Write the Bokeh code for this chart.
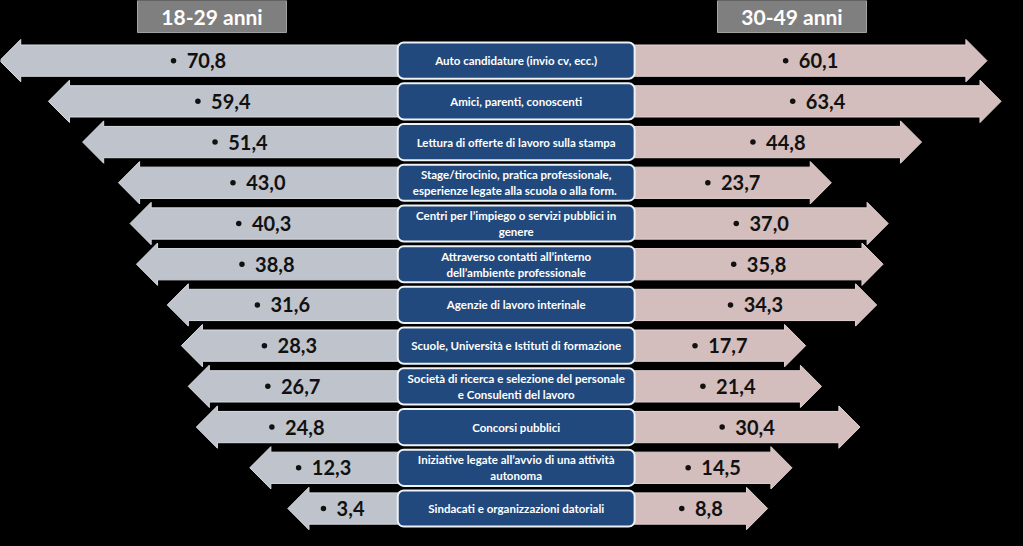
from bokeh.plotting import figure
from bokeh.models import Range1d, ColumnDataSource
from bokeh.embed import file_html
from bokeh.resources import INLINE
from bokeh.core.properties import value

# ---------------- data ----------------
categories = [
    "Auto candidature (invio cv, ecc.)",
    "Amici, parenti, conoscenti",
    "Lettura di offerte di lavoro sulla stampa",
    "Stage/tirocinio, pratica professionale,\nesperienze  legate alla scuola o alla form.",
    "Centri per l\u2019impiego o servizi pubblici in\ngenere",
    "Attraverso contatti all\u2019interno\ndell\u2019ambiente professionale",
    "Agenzie di lavoro interinale",
    "Scuole, Universit\u00e0 e Istituti di formazione",
    "Societ\u00e0 di ricerca e selezione del personale\ne Consulenti del lavoro",
    "Concorsi pubblici",
    "Iniziative legate all\u2019avvio di una attivit\u00e0\nautonoma",
    "Sindacati e organizzazioni datoriali",
]
age_18_29 = [70.8, 59.4, 51.4, 43.0, 40.3, 38.8, 31.6, 28.3, 26.7, 24.8, 12.3, 3.4]
age_30_49 = [60.1, 63.4, 44.8, 23.7, 37.0, 35.8, 34.3, 17.7, 21.4, 30.4, 14.5, 8.8]
group_labels = ["18-29 anni", "30-49 anni"]

# ---------------- layout constants ----------------
HW = 27.7        # half width of the central label box (value units)
OFFSET = 50.0    # arrow length added to every value
HEAD = 4.93      # arrow head length
BODY_H = 0.384   # half height of arrow body (row units)
HEAD_H = 0.52    # half height of arrow head
BOX_H = 0.444    # half height of label box

X0, X1 = -120.6, 114.9
Y0, Y1 = -11.54, 1.477
W_PX, H_PX = 1007, 530
PXU = W_PX / (X1 - X0)     # screen px per value unit

LEFT_COL = "#BFC3CC"
RIGHT_COL = "#D3BDBD"
BOX_COL = "#21497D"
HEAD_COL = "#7F7F7F"
FONT = "Lato"

rows = [-i for i in range(len(categories))]


def arrow(v, y, side):
    s = -1 if side == "left" else 1
    start = s * (HW - 2)
    tip = s * (OFFSET + v)
    base = tip - s * HEAD
    xs = [start, base, base, tip, base, base, start]
    ys = [y + BODY_H, y + BODY_H, y + HEAD_H, y, y - HEAD_H, y - BODY_H, y - BODY_H]
    return xs, ys


def fmt(v):
    return f"{v:.1f}".replace(".", ",")


def label_geom(v, side):
    s = -1 if side == "left" else 1
    mid = s * (HW + OFFSET + v) / 2
    txt = fmt(v)
    nw = (len(txt) - 1) * 11.6 + 5.0          # approx number width (px)
    total = nw + 15.5                          # bullet + gap + number
    bullet_x = mid + (-total / 2 + 2.5) / PXU
    num_x = mid + (total / 2 - nw / 2) / PXU
    return txt, bullet_x, num_x


def side_source(vals, side):
    xs, ys, tx, bx, lab = [], [], [], [], []
    for v, y in zip(vals, rows):
        a, b = arrow(v, y, side)
        xs.append(a); ys.append(b)
        t, bxx, nx = label_geom(v, side)
        lab.append(t); bx.append(bxx); tx.append(nx)
    return ColumnDataSource(dict(xs=xs, ys=ys, tx=tx, bx=bx, ty=rows, label=lab))


left_src = side_source(age_18_29, "left")
right_src = side_source(age_30_49, "right")
box_src = ColumnDataSource(dict(
    left=[-HW] * len(rows), right=[HW] * len(rows),
    top=[y + BOX_H for y in rows], bottom=[y - BOX_H for y in rows],
    x=[0] * len(rows), y=rows, label=categories))

p = figure(width=W_PX, height=H_PX, output_backend="svg", toolbar_location=None,
           x_range=Range1d(X0, X1), y_range=Range1d(Y0, Y1),
           min_border=0, background_fill_color="black", border_fill_color="black",
           outline_line_color=None)
p.axis.visible = False
p.grid.visible = False

for src, col, edge in ((left_src, LEFT_COL, "#D8DBE1"), (right_src, RIGHT_COL, "#E3D3D3")):
    p.patches("xs", "ys", source=src, fill_color=col, line_color=edge, line_width=1)
    p.scatter("bx", "ty", source=src, size=5.5, marker="circle",
              fill_color="#111111", line_color=None)
    p.text("tx", "ty", text="label", source=src, text_font=value(FONT), text_font_style="bold",
           text_font_size="20px", text_color="#111111", text_align="center",
           text_baseline="middle")

p.quad(left="left", right="right", top="top", bottom="bottom", source=box_src,
       fill_color=BOX_COL, line_color="#EEF2F6", line_width=2, border_radius=6)
p.text("x", "y", text="label", source=box_src, text_font=value(FONT), text_font_style="bold",
       text_font_size="11.5px", text_color="white", text_align="center", text_baseline="middle",
       text_line_height=1.25)

# group header boxes
hdr = ColumnDataSource(dict(
    left=[-88.56, 47.08], right=[-53.72, 81.93], top=[1.477, 1.477], bottom=[0.69, 0.69],
    x=[-71.14, 64.5], y=[1.083, 1.083], label=group_labels))
p.quad(left="left", right="right", top="top", bottom="bottom", source=hdr,
       fill_color=HEAD_COL, line_color="#A6A6A6", line_width=1)
p.text("x", "y", text="label", source=hdr, text_font=value(FONT), text_font_style="bold",
       text_font_size="21px", text_color="white", text_align="center", text_baseline="middle")

html = file_html(p, INLINE, title="Canali di ricerca del lavoro")
html = html.replace("</head>", "<style>body{background:#000000;}</style></head>", 1)
open("out.html", "w").write(html)
